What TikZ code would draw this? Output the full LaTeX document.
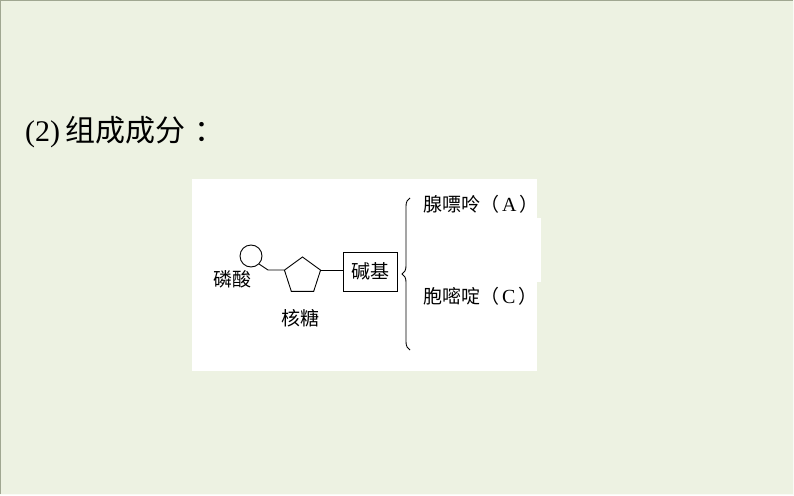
\documentclass[tikz,border=0pt]{standalone}
\usepackage{fontspec}
\setmainfont{Liberation Serif}
\newfontfamily\cjk{Noto Sans CJK SC}
\usetikzlibrary{decorations.pathreplacing,shapes.geometric}
\definecolor{bgc}{HTML}{EDF2E2}
\definecolor{edgec}{HTML}{A0A791}
\tikzset{
  lbl/.style={font=\cjk\fontsize{19}{20}\selectfont, inner sep=0pt},
  ln/.style={line width=0.9pt, black},
}
\newcommand{\latinin}[1]{\hspace{3pt}{\rmfamily\fontsize{20}{20}\selectfont #1}\hspace{3pt}}
\begin{document}
\begin{tikzpicture}[x=1pt,y=-1pt]
\useasboundingbox (0,0) rectangle (794,495);
\fill[bgc] (0,0) rectangle (794,495);
\draw[edgec, line width=1.2pt] (0.6,495) -- (0.6,0.6) -- (794,0.6);
\draw[white!70!bgc, line width=1pt] (793.5,0) -- (793.5,494.5) -- (0,494.5);
% title
\node[anchor=base west, inner sep=0pt, font=\fontsize{30}{30}\selectfont] (title) at (25,141) {(2)\,{\cjk 组成成分}\hspace{9pt}{\cjk ：}};
% white panel
\fill[white] (192,179) rectangle (537,371);
\fill[white] (537,218) rectangle (541,282);
% phosphate circle
\node[circle, draw, ln, minimum size=22pt, inner sep=0pt] (ph) at (251,256) {};
\coordinate (k1) at (268,270);
% pentagon
\node[regular polygon, regular polygon sides=5, draw, ln, minimum size=38pt, inner sep=0pt] (sug) at (302.5,276) {};
\draw[ln] (ph.-45) -- (k1) -- (sug.corner 2);
% base box
\node[draw, ln, minimum width=54pt, minimum height=39pt, inner sep=0pt, lbl] (base) at (370,271.5) {碱基};
\draw[ln] (sug.corner 5) -- (base.west |- sug.corner 5);
% brace
\coordinate (bt) at (410,198);
\coordinate (bb) at (410,350);
\draw[ln, decorate, decoration={brace, amplitude=8pt}] (bb) -- (bt);
% labels
\node[lbl, anchor=west] (a) at (423,204) {腺嘌呤（\latinin{A}）};
\node[lbl, anchor=west] (c) at (423,296) {胞嘧啶（\latinin{C}）};
\node[lbl] (pl) at (232,279) {磷酸};
\node[lbl] (sl) at (300,318) {核糖};
\end{tikzpicture}
\end{document}
